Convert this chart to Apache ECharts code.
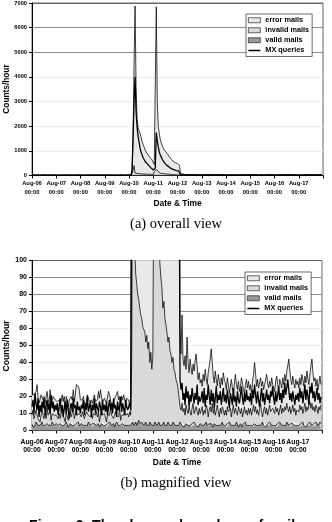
<!DOCTYPE html>
<html>
<head>
<meta charset="utf-8">
<script src="https://cdn.jsdelivr.net/npm/echarts@6/dist/echarts.min.js"></script>
<style>
  html, body { margin: 0; padding: 0; background: #fff; }
  #chart { width: 332px; height: 522px; }
</style>
</head>
<body>
<div id="chart"></div>
<script>
// hourly counts, Aug-06 00:00 .. Aug-17 23:00 (one row per day)
const dayLabels = ['Aug-06', 'Aug-07', 'Aug-08', 'Aug-09', 'Aug-10', 'Aug-11',
  'Aug-12', 'Aug-13', 'Aug-14', 'Aug-15', 'Aug-16', 'Aug-17', 'Aug-18']
const timeLabel = '00:00'

const validMails = [
  3,4,2,3,5,4,3,2,3,4,5,3,4,3,2,4,5,3,4,3,5,4,3,4,
  4,3,3,2,4,5,3,4,3,3,5,4,2,3,4,5,3,4,3,2,4,3,5,3,
  3,4,5,3,2,3,4,3,5,4,3,2,4,3,4,5,3,3,4,2,3,4,5,3,
  4,3,2,4,3,5,4,3,3,4,2,3,5,4,3,4,3,2,4,5,3,4,3,4,
  3,4,3,4,5,3,4,5,3,4,6,4,3,5,4,3,4,5,3,4,3,5,4,3,
  4,3,5,4,3,4,5,3,4,3,4,5,3,4,3,5,4,3,4,3,5,4,3,4,
  3,4,3,5,4,3,4,2,3,4,5,3,4,3,2,4,3,5,4,3,4,2,3,4,
  4,3,2,3,4,5,3,2,4,3,4,3,2,4,5,3,4,3,2,3,4,5,3,4,
  3,2,4,3,5,4,3,2,3,4,3,5,4,2,3,4,3,2,4,3,5,3,4,3,
  2,3,4,3,2,4,5,3,4,3,2,3,4,5,3,4,2,3,4,3,5,4,3,2,
  3,4,3,2,4,3,5,4,3,2,3,4,3,5,4,3,2,4,3,4,5,3,4,3,
  4,3,2,4,3,5,3,4,2,3,4,3,5,4,3,2,4,3,5,4,3,4,5,4
]
const invalidMails = [
  6,8,5,3,7,9,4,6,2,5,8,6,3,7,5,9,4,6,8,3,5,7,6,4,
  5,7,4,8,3,6,9,5,7,2,6,8,4,5,7,3,6,9,4,5,8,6,3,7,
  7,4,6,8,5,3,7,9,4,6,5,8,3,7,6,4,8,5,7,3,6,9,4,5,
  6,8,3,5,7,4,9,6,5,3,7,8,4,6,5,9,3,7,6,4,8,5,7,6,
  5,7,6,36,195,397,106,87,83,76,71,68,65,61,57,57,54,47,53,44,49,35,42,33,
  40,157,215,246,197,156,115,95,86,81,68,71,63,58,55,47,51,44,41,37,38,32,31,26,
  25,21,21,9,8,13,7,11,6,11,7,7,10,8,7,9,13,5,8,11,7,7,10,6,
  7,11,7,9,6,10,10,6,8,11,7,13,8,9,4,9,11,8,6,10,6,9,9,5,
  9,7,10,8,5,9,5,10,12,6,10,6,5,12,9,6,10,6,7,11,5,9,5,10,
  8,10,5,9,13,7,9,7,8,6,11,13,7,3,9,10,8,10,5,9,10,7,7,11,
  9,6,11,9,9,6,7,11,7,11,8,10,9,11,9,8,12,6,9,11,6,10,5,9,
  9,8,13,8,11,5,10,12,9,11,8,12,12,9,13,10,10,8,10,9,7,10,7,11
]
const errorMails = [
  12,10,14,16,11,14,13,8,10,12,7,9,11,6,8,10,9,7,12,10,8,9,11,10,
  9,7,10,8,11,6,9,8,10,7,9,6,8,10,7,12,9,11,10,14,15,19,18,14,
  8,10,7,9,12,8,6,9,11,7,10,8,9,6,11,8,7,10,12,14,15,7,8,10,
  9,7,11,8,13,12,9,6,8,10,7,9,11,13,10,7,9,11,8,12,10,7,9,8,
  10,4,11,210,1300,4100,6770,3508,2214,1870,1743,1628,1482,1314,1189,1090,982,898,834,782,728,680,624,584,
  496,290,160,6600,2800,1840,1580,1352,1230,1116,1028,964,914,858,822,768,705,653,605,560,517,504,486,470,
  452,425,386,46,33,52,31,25,35,21,43,30,20,31,28,20,23,25,29,31,27,21,21,18,
  19,12,24,17,26,16,14,26,26,28,37,24,22,15,26,18,11,22,21,12,21,13,22,21,
  16,15,17,16,12,13,22,13,6,18,20,16,15,15,11,16,18,20,13,8,17,18,16,16,
  14,14,13,17,18,29,20,16,18,16,15,15,15,21,12,13,20,20,19,13,14,15,21,14,
  14,13,15,21,14,15,18,13,15,18,16,19,17,19,25,31,22,20,15,17,17,12,21,15,
  16,14,16,15,19,20,13,16,17,21,18,12,16,25,26,22,15,20,11,17,14,14,20,12
]
const mxQueries = [
  14,18,10,22,16,12,19,8,15,11,17,13,20,9,14,18,12,16,10,21,13,17,11,15,
  12,16,9,14,19,11,15,8,13,17,10,18,12,7,14,16,11,19,13,15,9,17,12,14,
  10,15,13,18,9,16,12,20,11,14,17,8,15,12,19,10,16,13,11,17,14,9,18,12,
  15,11,17,9,14,18,12,16,10,19,13,15,8,17,12,14,20,11,16,13,9,18,14,12,
  13,16,12,150,1500,3000,4010,2600,1950,1600,1350,1100,950,830,720,640,570,510,480,430,390,350,300,260,
  220,200,300,1745,1400,1150,950,830,745,650,580,520,470,430,410,370,330,300,280,260,240,225,210,200,
  195,190,185,30,24,28,18,22,15,26,19,23,14,21,17,25,20,16,22,18,27,15,20,17,
  19,23,16,25,14,21,18,27,20,15,24,17,22,13,19,26,16,21,18,23,15,20,25,17,
  21,16,24,18,13,22,19,15,25,17,20,14,23,18,16,21,26,19,15,22,17,24,18,20,
  17,22,15,24,19,27,21,16,23,18,14,20,25,17,22,15,19,24,18,21,16,23,20,26,
  19,15,23,17,21,26,18,22,16,24,19,28,21,25,30,24,18,22,17,23,19,15,21,18,
  22,17,25,19,23,16,21,27,18,24,20,15,26,22,28,19,23,17,21,25,18,22,16,20
]

const FONT = '"Liberation Sans", Arial, sans-serif'
const LIGHT = '#ececec'
const DARK = '#8c8c8c'

const colors = {
  error: '#e9e9e9',
  invalid: '#d9d9d9',
  valid: '#999999'
}

// one category per hour, plus the closing Aug-18 00:00 edge
const hours = []
dayLabels.forEach((d, i) => {
  const n = i < dayLabels.length - 1 ? 24 : 1
  for (let h = 0; h < n; h++) hours.push(d + ' ' + (h < 10 ? '0' : '') + h + ':00')
})

function areaSeries(name, data, color, idx) {
  return {
    name: name,
    type: 'line',
    xAxisIndex: idx,
    yAxisIndex: idx,
    stack: 'mails' + idx,
    data: data,
    symbol: 'none',
    color: color,
    lineStyle: { color: '#000', width: 0.75 },
    areaStyle: { color: color, opacity: 1 },
    silent: true,
    animation: false
  }
}

function mxSeries(idx) {
  return {
    name: 'MX queries',
    type: 'line',
    xAxisIndex: idx,
    yAxisIndex: idx,
    data: mxQueries,
    symbol: 'none',
    color: '#000',
    lineStyle: { color: '#000', width: 1.3 },
    silent: true,
    animation: false
  }
}

const dayTick = (index) => index % 24 === 0

function xAxis(idx, fontSize, lineHeight, margin) {
  return {
    type: 'category',
    gridIndex: idx,
    data: hours,
    boundaryGap: false,
    axisLine: { lineStyle: { color: '#000', width: 1 } },
    axisTick: { length: 3, interval: dayTick, lineStyle: { color: '#000' } },
    splitLine: { show: false },
    axisLabel: {
      interval: (index) => dayTick(index) && index < 288,
      margin: margin,
      color: '#000',
      fontFamily: FONT,
      fontWeight: 'bold',
      fontSize: fontSize,
      lineHeight: lineHeight,
      formatter: v => v.split(' ')[0] + '\n' + timeLabel
    }
  }
}

function yAxis(idx, max, interval, fontSize, lineColors) {
  return {
    type: 'value',
    gridIndex: idx,
    min: 0,
    max: max,
    interval: interval,
    axisLine: { show: true, lineStyle: { color: '#000', width: 1 } },
    axisTick: { show: true, length: 3, lineStyle: { color: '#000' } },
    splitLine: { show: true, lineStyle: { color: lineColors, width: 1 } },
    axisLabel: {
      margin: 5,
      color: '#000',
      fontFamily: FONT,
      fontWeight: 'bold',
      fontSize: fontSize,
      formatter: v => String(v)
    }
  }
}

const legendData = [
  { name: 'error mails', icon: 'rect', itemStyle: { color: colors.error, borderColor: '#222', borderWidth: 0.7 } },
  { name: 'invalid mails', icon: 'rect', itemStyle: { color: colors.invalid, borderColor: '#222', borderWidth: 0.7 } },
  { name: 'valid mails', icon: 'rect', itemStyle: { color: colors.valid, borderColor: '#222', borderWidth: 0.7 } },
  {
    name: 'MX queries',
    // thin bar in the middle of a 12x5 box
    icon: 'path://M0,0h0.01v0.01h-0.01zM0,2h12v1.4h-12zM12,5h-0.01v-0.01h0.01z',
    itemStyle: { color: '#000', borderWidth: 0 }
  }
]

function legend(left, top) {
  return {
    orient: 'vertical',
    left: left,
    top: top,
    data: legendData,
    selectedMode: false,
    itemWidth: 12,
    itemHeight: 5,
    itemGap: 1.5,
    padding: [2, 3, 2, 2],
    borderColor: '#444',
    borderWidth: 0.8,
    backgroundColor: '#fff',
    textStyle: { fontFamily: FONT, fontWeight: 'bold', fontSize: 7.3, lineHeight: 8.5, color: '#000' }
  }
}

function label(text, x, y, font, rotate) {
  return {
    type: 'text',
    x: x,
    y: y,
    rotation: rotate ? Math.PI / 2 : 0,
    silent: true,
    style: { text: text, font: font, fill: '#000', align: 'center', verticalAlign: 'middle' }
  }
}

const chart = echarts.init(document.getElementById('chart'), null, { renderer: 'canvas' })
chart.setOption({
  animation: false,
  grid: [
    { left: 32, top: 1, width: 291, height: 174.5, show: true, borderColor: '#666', borderWidth: 1 },
    { left: 32, top: 260.5, width: 290, height: 170, show: true, borderColor: '#666', borderWidth: 1 }
  ],
  xAxis: [xAxis(0, 5.8, 9.3, 3), xAxis(1, 6.8, 8.3, 7)],
  yAxis: [
    yAxis(0, 7000, 1000, 5.7, ['#000', LIGHT, LIGHT, LIGHT, LIGHT, DARK, DARK, '#666']),
    yAxis(1, 100, 10, 7, ['#000', LIGHT, LIGHT, LIGHT, LIGHT, LIGHT, LIGHT, DARK, DARK, DARK, '#666'])
  ],
  legend: [legend(246, 14), legend(245, 272)],
  series: [
    areaSeries('valid mails', validMails, colors.valid, 0),
    areaSeries('invalid mails', invalidMails, colors.invalid, 0),
    areaSeries('error mails', errorMails, colors.error, 0),
    mxSeries(0),
    areaSeries('valid mails', validMails, colors.valid, 1),
    areaSeries('invalid mails', invalidMails, colors.invalid, 1),
    areaSeries('error mails', errorMails, colors.error, 1),
    mxSeries(1)
  ],
  graphic: [
    label('Counts/hour', 6.7, 89, 'bold 8.3px ' + FONT, true),
    label('Date & Time', 177.6, 204, 'bold 8.4px ' + FONT),
    label('(a) overall view', 176, 224, '14.5px "Liberation Serif", "Times New Roman", serif'),
    label('Counts/hour', 6.7, 346, 'bold 8.6px ' + FONT, true),
    label('Date & Time', 177, 462.7, 'bold 8.4px ' + FONT),
    label('(b) magnified view', 176, 483, '14.5px "Liberation Serif", "Times New Roman", serif'),
    label('Figure 3: The observed numbers of mails', 166, 526, 'bold 14px ' + FONT)
  ]
})
</script>
</body>
</html>
